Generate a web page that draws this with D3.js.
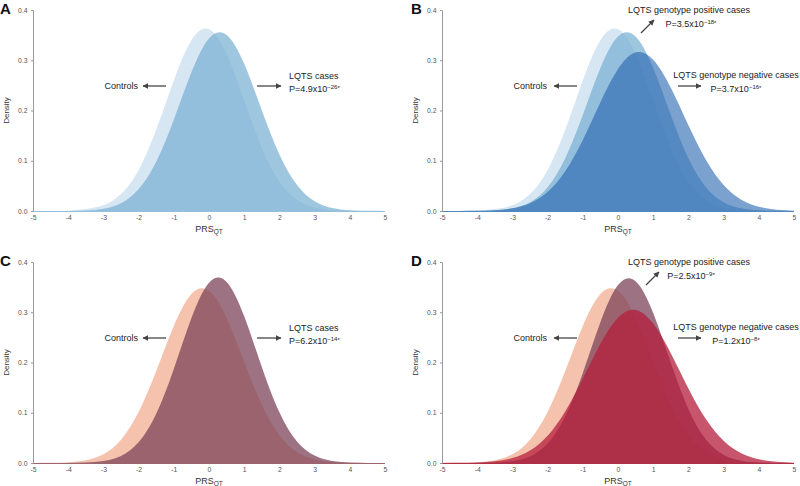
<!DOCTYPE html>
<html><head><meta charset="utf-8">
<script src="https://cdn.jsdelivr.net/npm/d3@7"></script>
<style>
html,body{margin:0;padding:0;background:#fff;}
svg{display:block;font-family:"Liberation Sans",Arial,sans-serif;}
</style></head>
<body><svg id="chart" width="800" height="486"></svg>
<script>
// ---- data ----
const prsGrid = [-5,-4.5,-4,-3.5,-3,-2.5,-2,-1.5,-1,-0.5,0,0.5,1,1.5,2,2.5,3,3.5,4,4.5,5];
const yTicks = [0,0.1,0.2,0.3,0.4];
const xTicks = [-5,-4,-3,-2,-1,0,1,2,3,4,5];

// Panel A
const aControls = [0,0.0001,0.0007,0.0040,0.0112,0.0336,0.0818,0.1615,0.2598,0.3398,0.3615,0.3128,0.2202,0.1260,0.0587,0.0222,0.0068,0.0017,0.0003,0.0001,0];
const aCases    = [0,0,0.0002,0.0011,0.0046,0.0156,0.0432,0.0979,0.1815,0.2759,0.3434,0.3504,0.2929,0.2005,0.1125,0.0517,0.0195,0.0060,0.0015,0.0003,0.0001];
// Panel B
const bControls = aControls;
const bPositive = [0,0,0.0003,0.0013,0.0053,0.0175,0.0473,0.1050,0.1910,0.2845,0.3472,0.3472,0.2845,0.1910,0.1050,0.0473,0.0175,0.0053,0.0013,0.0003,0];
const bNegative = [0,0.0001,0.0004,0.0016,0.0053,0.0154,0.0377,0.0790,0.1414,0.2163,0.2827,0.3156,0.3010,0.2454,0.1708,0.1016,0.0516,0.0224,0.0083,0.0026,0.0007];
// Panel C
const cControls = [0.0001,0.0003,0.0014,0.0055,0.0176,0.0465,0.1013,0.1829,0.2727,0.3363,0.3427,0.2888,0.2011,0.1158,0.0551,0.0217,0.0071,0.0019,0.0004,0.0001,0];
const cCases    = [0,0,0.0002,0.0009,0.0039,0.0141,0.0413,0.0979,0.1870,0.2884,0.3588,0.3604,0.2921,0.1911,0.1009,0.0430,0.0148,0.0041,0.0009,0.0002,0];
// Panel D
const dControls = cControls;
const dPositive = [0,0,0.0001,0.0008,0.0036,0.0131,0.0388,0.0927,0.1793,0.2803,0.3542,0.3618,0.2987,0.1994,0.1076,0.0469,0.0166,0.0047,0.0011,0.0002,0];
const dNegative = [0.0001,0.0003,0.0010,0.0033,0.0098,0.0248,0.0543,0.1027,0.1678,0.2369,0.2890,0.3046,0.2774,0.2183,0.1485,0.0871,0.0442,0.0194,0.0074,0.0024,0.0007];

const panelLetters = ["A","B","C","D"];
const blueColors = {controls:"#d6e7f3", pos:"rgba(118,174,210,0.7)", neg:"rgba(35,99,173,0.6)"};
const redColors  = {controls:"#f5c3ad", pos:"rgba(124,67,88,0.75)", neg:"rgba(180,30,60,0.75)"};

// ---- layout ----
const panels = [
  {letter:"A", x0:33,  x1:385, top:10,  bottom:211, col:blueColors, series:[["controls",aControls],["pos",aCases]],
   labels:{type:"two", p:["4.9","−26"]}},
  {letter:"B", x0:442, x1:794, top:10,  bottom:211, col:blueColors, series:[["controls",bControls],["pos",bPositive],["neg",bNegative]],
   labels:{type:"three", pp:["3.5","−18"], pn:["3.7","−16"]}},
  {letter:"C", x0:33,  x1:385, top:262, bottom:463, col:redColors, series:[["controls",cControls],["pos",cCases]],
   labels:{type:"two", p:["6.2","−14"]}},
  {letter:"D", x0:442, x1:794, top:262, bottom:463, col:redColors, series:[["controls",dControls],["pos",dPositive],["neg",dNegative]],
   labels:{type:"three", pp:["2.5","−9"], pn:["1.2","−8"]}}
];

const FS = 9;
const svg = d3.select("#chart");
const defs = svg.append("defs");
defs.append("marker").attr("id","ah").attr("viewBox","0 0 10 10").attr("refX",9).attr("refY",5)
  .attr("markerWidth",4.5).attr("markerHeight",4.5).attr("orient","auto-start-reverse")
  .append("path").attr("d","M0,0 L10,5 L0,10 z").attr("fill","#444");

function pText(g, x, y, anchor, mant, exp) {
  const t = g.append("text").attr("x",x).attr("y",y).attr("text-anchor",anchor)
    .attr("font-size",FS).attr("fill","#222");
  t.append("tspan").text("P=" + mant + "x10");
  t.append("tspan").attr("font-size",6).attr("dy",-3.5).text(exp);
  t.append("tspan").attr("font-size",6).attr("dy",1.5).text("*");
  return t;
}
function arrow(g, x1,y1,x2,y2){
  g.append("line").attr("x1",x1).attr("y1",y1).attr("x2",x2).attr("y2",y2)
   .attr("stroke","#444").attr("stroke-width",1.3).attr("marker-end","url(#ah)");
}

panels.forEach((p, i) => {
  const g = svg.append("g");
  const x = d3.scaleLinear().domain([-5,5]).range([p.x0,p.x1]);
  const y = d3.scaleLinear().domain([0,0.4]).range([p.bottom,p.top]);
  const dy = p.top - 10;

  const clipId = "clip"+i;
  defs.append("clipPath").attr("id",clipId).append("rect")
    .attr("x",p.x0).attr("y",p.top-5).attr("width",p.x1-p.x0).attr("height",p.bottom-p.top+6);

  const area = d3.area().x((d,j)=>x(prsGrid[j])).y0(p.bottom+1).y1(d=>Math.min(y(d), p.bottom)).curve(d3.curveNatural);
  const ga = g.append("g").attr("clip-path","url(#"+clipId+")");
  p.series.forEach(([k, vals]) => {
    ga.append("path").datum(vals).attr("d",area).attr("fill",p.col[k]);
  });

  // axes
  const ya = d3.axisLeft(y).tickValues(yTicks).tickFormat(d3.format(".1f")).tickSize(2).tickSizeOuter(0).tickPadding(3.5);
  const gy = g.append("g").attr("transform","translate("+p.x0+",0)").call(ya);
  gy.select(".domain").attr("stroke","#9a9a9a").attr("stroke-width",1);
  gy.selectAll(".tick line").attr("stroke","#9a9a9a");
  gy.selectAll("text").attr("font-size",6.8).attr("fill","#555").attr("font-family","Liberation Sans, Arial, sans-serif");

  const xa = d3.axisBottom(x).tickValues(xTicks).tickFormat(d=>String(d)).tickSize(0).tickPadding(4);
  const gx = g.append("g").attr("transform","translate(0,"+p.bottom+")").call(xa);
  gx.select(".domain").remove();
  gx.selectAll("text").attr("font-size",6.8).attr("fill","#555").attr("font-family","Liberation Sans, Arial, sans-serif");

  // axis titles
  const xc = (p.x0+p.x1)/2;
  const xt = g.append("text").attr("x",xc).attr("y",p.bottom+21).attr("text-anchor","middle").attr("font-size",9).attr("fill","#333");
  xt.append("tspan").text("PRS");
  xt.append("tspan").attr("font-size",6.5).attr("dy",2).text("QT");
  const yx = p.x0 - 25;
  g.append("text").attr("transform","translate("+(yx+1)+","+((p.top+p.bottom)/2)+") rotate(-90)")
    .attr("text-anchor","middle").attr("font-size",8).attr("fill","#333").text("Density");

  // panel letter
  const lx = p.x0 < 100 ? 0 : 411;
  g.append("text").attr("x",lx).attr("y",p.top+4).attr("font-size",15).attr("font-weight","bold").attr("fill","#111").text(p.letter);

  // annotations
  const off = p.x0 - 33;
  g.append("text").attr("x",138+off).attr("y",89+dy).attr("text-anchor","end").attr("font-size",FS).attr("fill","#222").text("Controls");
  if (p.labels.type === "two") {
    arrow(g, 166, 86+dy, 143, 86+dy);
    arrow(g, 257, 86+dy, 281, 86+dy);
    g.append("text").attr("x",289).attr("y",79+dy).attr("font-size",FS).attr("fill","#222").text("LQTS cases");
    pText(g, 289, 92+dy, "start", p.labels.p[0], p.labels.p[1]);
  } else {
    arrow(g, 577, 86+dy, 554, 86+dy);
    g.append("text").attr("x",689).attr("y",13+dy).attr("text-anchor","middle").attr("font-size",FS).attr("fill","#222").text("LQTS genotype positive cases");
    pText(g, 691, 27+dy, "middle", p.labels.pp[0], p.labels.pp[1]);
    const ax = p.letter === "D" ? 5 : 0;
    arrow(g, 641+ax, 33+dy, 654+ax, 20+dy);
    g.append("text").attr("x",736).attr("y",78+dy).attr("text-anchor","middle").attr("font-size",FS).attr("fill","#222").text("LQTS genotype negative cases");
    pText(g, 736, 92+dy, "middle", p.labels.pn[0], p.labels.pn[1]);
    arrow(g, 678, 86+dy, 701, 86+dy);
  }
});
</script></body></html>
